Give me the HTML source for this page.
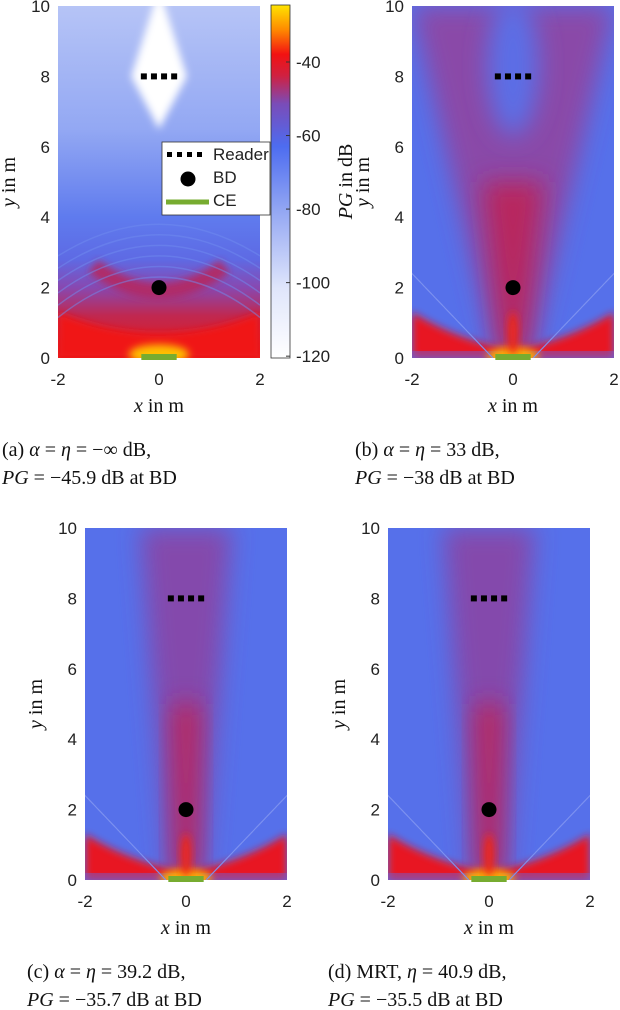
<!DOCTYPE html>
<html><head><meta charset="utf-8"><style>
body{margin:0;background:#fff;width:620px;height:1010px;overflow:hidden}
svg{display:block}
.tk{font-family:"Liberation Sans",sans-serif;font-size:17px;fill:#222}
.ser{font-family:"Liberation Serif",serif;font-size:20px;fill:#111}
</style></head><body>
<svg id="fig" width="620" height="1010" xmlns="http://www.w3.org/2000/svg">
<defs>
<filter id="bl" x="-50%" y="-50%" width="200%" height="200%"><feGaussianBlur stdDeviation="12"/></filter>
<filter id="bl2" x="-50%" y="-50%" width="200%" height="200%"><feGaussianBlur stdDeviation="4"/></filter>
<linearGradient id="cbg" x1="0" y1="1" x2="0" y2="0">
<stop offset="0" stop-color="#ffffff"/><stop offset="0.2" stop-color="#dfe5fb"/><stop offset="0.42" stop-color="#92a6f3"/>
<stop offset="0.6" stop-color="#4d6cf0"/><stop offset="0.72" stop-color="#7a4cb8"/><stop offset="0.8" stop-color="#d02040"/>
<stop offset="0.86" stop-color="#f21212"/><stop offset="0.93" stop-color="#ff8a00"/><stop offset="1" stop-color="#ffe400"/></linearGradient>
<linearGradient id="ga" x1="0" y1="0" x2="0" y2="1">
<stop offset="0" stop-color="#b6c4f6"/><stop offset="0.35" stop-color="#93a8f3"/><stop offset="0.6" stop-color="#5f7bee"/>
<stop offset="0.72" stop-color="#5e6ae4"/><stop offset="0.8" stop-color="#8848b0"/><stop offset="0.88" stop-color="#c02850"/><stop offset="1" stop-color="#e81a1a"/></linearGradient>
</defs>
</svg>
<script>
const xTicks=[-2,0,2];
const yTicks=[0,2,4,6,8,10];
const cbTicks=[-40,-60,-80,-100,-120];
const cbRange=[-120.5,-24.5];
const readerX=[-0.3,-0.1,0.1,0.3];
const readerY=8;
const bdPos=[0,2];
const ceX=[-0.35,0.35];
const coneTopHalf=[0,2.0,0.9,0.9];
const panels=[
 {id:'a',gx:58,gy:6,type:'a',cap:['(a) <tspan font-style="italic">α</tspan> = <tspan font-style="italic">η</tspan> = −∞ dB,','<tspan font-style="italic">PG</tspan> = −45.9 dB at BD'],cx:2,cy:456},
 {id:'b',gx:412,gy:6,type:'b',cap:['(b) <tspan font-style="italic">α</tspan> = <tspan font-style="italic">η</tspan> = 33 dB,','<tspan font-style="italic">PG</tspan> = −38 dB at BD'],cx:355,cy:456},
 {id:'c',gx:85,gy:528,type:'c',cap:['(c) <tspan font-style="italic">α</tspan> = <tspan font-style="italic">η</tspan> = 39.2 dB,','<tspan font-style="italic">PG</tspan> = −35.7 dB at BD'],cx:27,cy:978},
 {id:'d',gx:388,gy:528,type:'d',cap:['(d) MRT, <tspan font-style="italic">η</tspan> = 40.9 dB,','<tspan font-style="italic">PG</tspan> = −35.5 dB at BD'],cx:328,cy:978}
];
const W=202,H=352,NS='http://www.w3.org/2000/svg';
const svg=document.getElementById('fig');
function el(t,a,p){const e=document.createElementNS(NS,t);for(const k in a)e.setAttribute(k,a[k]);(p||svg).appendChild(e);return e;}
panels.forEach((P,i)=>{
 const sx=v=>P.gx+(v+2)/4*W, sy=v=>P.gy+H-(v/10)*H;
 const g=el('g',{});
 
 
 const cp=el('clipPath',{id:'cp'+i},g);
 el('rect',{x:P.gx,y:P.gy,width:W,height:H},cp);
 const c=el('g',{'clip-path':'url(#cp'+i+')'},g);
 const k=coneTopHalf[i];
 if(P.type==='a'){
  el('rect',{x:P.gx,y:P.gy,width:W,height:H,fill:'url(#ga)'},c);
  el('polygon',{points:`${sx(0)},${sy(10.5)} ${sx(0.55)},${sy(8)} ${sx(0)},${sy(6.5)} ${sx(-0.55)},${sy(8)}`,fill:'#fff',filter:'url(#bl2)'},c);
  el('path',{d:`M${sx(-2)} ${sy(1.3)} Q${sx(0)} ${sy(0.1)} ${sx(2)} ${sy(1.3)} L${sx(2)} ${sy(0)} L${sx(-2)} ${sy(0)}Z`,fill:'#f01818',filter:'url(#bl2)'},c);
  el('path',{d:`M${sx(-1.3)} ${sy(2.6)} Q${sx(0)} ${sy(1.2)} ${sx(1.3)} ${sy(2.6)}`,fill:'none',stroke:'#b02a68',"stroke-width":16,filter:'url(#bl2)'},c);
  el('ellipse',{cx:sx(0),cy:sy(0.1),rx:30,ry:10,fill:'#ffc000',filter:'url(#bl2)'},c);
  for(let r=1;r<=6;r++)el('path',{d:`M${sx(-2)} ${sy(0.8+r*0.35)} Q${sx(0)} ${sy(3.2+r*0.25)} ${sx(2)} ${sy(0.8+r*0.35)}`,fill:'none',stroke:'#6f8cf0',"stroke-width":1.5,opacity:0.5},c);
 }else{
  el('rect',{x:P.gx,y:P.gy,width:W,height:H,fill:'#5670ea'},c);
  el('polygon',{points:`${sx(-0.35)},${sy(0)} ${sx(0.35)},${sy(0)} ${sx(k)},${sy(10)} ${sx(-k)},${sy(10)}`,fill:P.type==='b'?'#8a48a8':'#8448ac',filter:'url(#bl)'},c);
  if(P.type==='b')el('ellipse',{cx:sx(0),cy:sy(8.3),rx:26,ry:70,fill:'#5c6ee6',filter:'url(#bl)'},c);
  el('polygon',{points:`${sx(-0.2)},${sy(0)} ${sx(0.2)},${sy(0)} ${sx(k*0.3)},${sy(5)} ${sx(-k*0.3)},${sy(5)}`,fill:'#b8285e',filter:'url(#bl)'},c);
  el('path',{d:`M${sx(-2)} ${sy(1.3)} Q${sx(-1.2)} ${sy(0.6)} ${sx(-0.3)} ${sy(0.3)} L${sx(0.3)} ${sy(0.3)} Q${sx(1.2)} ${sy(0.6)} ${sx(2)} ${sy(1.3)} L${sx(2)} ${sy(0)} L${sx(-2)} ${sy(0)}Z`,fill:'#e81820',filter:'url(#bl2)'},c);
  el('rect',{x:sx(-2),y:sy(0.2),width:W,height:8,fill:'#7a58c8',opacity:0.5},c);
  el('ellipse',{cx:sx(0),cy:sy(0.05),rx:26,ry:9,fill:'#ffaa00',filter:'url(#bl2)'},c);
  el('ellipse',{cx:sx(0),cy:sy(0.7),rx:5,ry:22,fill:'#f02818',filter:'url(#bl2)'},c);
  for(let r=0;r<10;r++){const a=0.4+r*0.16;
   el('line',{x1:sx(0.4),y1:sy(0),x2:sx(0.4+a*4),y2:sy(a*6),stroke:'#7f93f2','stroke-width':1,opacity:0.25},c);
   el('line',{x1:sx(-0.4),y1:sy(0),x2:sx(-0.4-a*4),y2:sy(a*6),stroke:'#7f93f2','stroke-width':1,opacity:0.25},c);}
 }
 xTicks.forEach(v=>{const t=el('text',{x:sx(v),y:P.gy+H+27,'text-anchor':'middle',class:'tk'});t.textContent=v;});
 yTicks.forEach(v=>{const t=el('text',{x:P.gx-8,y:sy(v)+6,'text-anchor':'end',class:'tk'});t.textContent=v;});
 const xl=el('text',{x:sx(0),y:P.gy+H+54,'text-anchor':'middle',class:'ser'});xl.innerHTML='<tspan font-style="italic">x</tspan> in m';
 
 const yl=el('text',{x:0,y:0,'text-anchor':'middle',class:'ser',transform:`translate(${P.gx-43},${P.gy+H/2}) rotate(-90)`});yl.innerHTML='<tspan font-style="italic">y</tspan> in m';
 
 readerX.forEach(v=>{const r=el('rect',{x:sx(v)-3,y:sy(readerY)-3,width:6,height:6,fill:'#000'});});
 const bd=el('circle',{cx:sx(bdPos[0]),cy:sy(bdPos[1]),r:7.5,fill:'#000'});
 const ce=el('line',{x1:sx(ceX[0]),y1:sy(0)-1,x2:sx(ceX[1]),y2:sy(0)-1,stroke:'#77ac30','stroke-width':6});
 P.cap.forEach((s,j)=>{const t=el('text',{x:P.cx,y:P.cy+j*28,class:'ser'});t.innerHTML=s;});
});
const cbX=271,cbY=5,cbW=19,cbH=353;
const cy=v=>cbY+cbH*(cbRange[1]-v)/(cbRange[1]-cbRange[0]);
const cb=el('rect',{x:cbX,y:cbY,width:cbW,height:cbH,fill:'url(#cbg)',stroke:'#333','stroke-width':0.8});

cbTicks.forEach(v=>{el('line',{x1:cbX+cbW-4,x2:cbX+cbW,y1:cy(v),y2:cy(v),stroke:'#333'});
 const t=el('text',{x:cbX+cbW+6,y:cy(v)+6,class:'tk'});t.textContent=v;});
const cbl=el('text',{x:0,y:0,'text-anchor':'middle',class:'ser',transform:`translate(352,${cbY+cbH/2}) rotate(-90)`});cbl.innerHTML='<tspan font-style="italic">PG</tspan> in dB';

const lg=el('g',{});
el('rect',{x:162,y:142,width:108,height:73,fill:'#fff',stroke:'#333','stroke-width':0.8},lg);
[0,1,2,3].forEach(j=>el('rect',{x:167+j*10,y:152,width:5,height:5,fill:'#000'},lg));
el('circle',{cx:188,cy:179,r:7.5,fill:'#000'},lg);
el('line',{x1:166,x2:209,y1:202,y2:202,stroke:'#77ac30','stroke-width':5},lg);
[['Reader',163],['BD',186],['CE',209]].forEach(([s,y])=>{const t=el('text',{x:213,y:y-3,class:'tk'},lg);t.textContent=s;});
</script>
</body></html>
